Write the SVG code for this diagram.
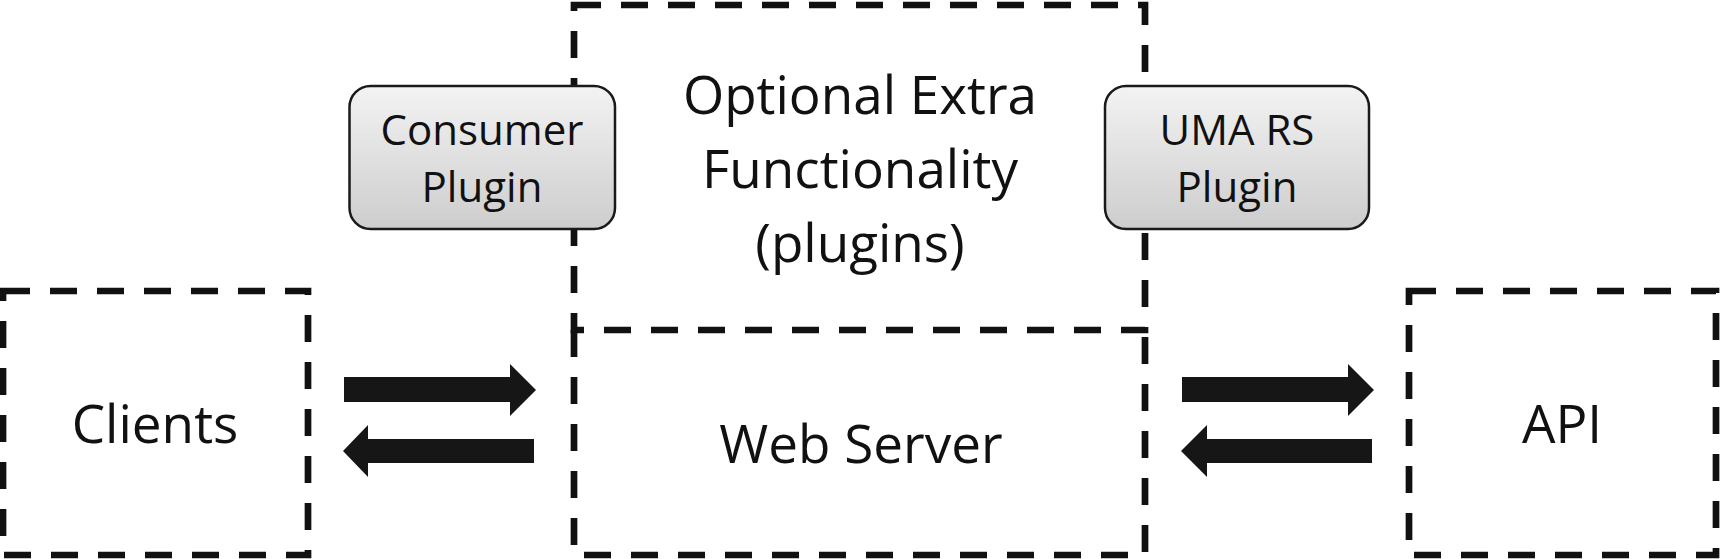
<svg xmlns="http://www.w3.org/2000/svg" width="1721" height="559" viewBox="0 0 1721 559">
  <style>
    .dash { fill: none; stroke: #111; stroke-width: 6.7; stroke-dasharray: 27 20; }
    .plug { fill: url(#g); stroke: #1a1a1a; stroke-width: 2.5; }
    .t { font-family: "Open Sans", "Noto Sans", sans-serif; fill: #111; text-anchor: middle; }
    .big { font-size: 53px; }
    .sm { font-size: 42px; }
    .arrow { fill: #161616; }
  </style>
  <defs>
    <linearGradient id="g" x1="0" y1="0" x2="0" y2="1">
      <stop offset="0" stop-color="#f3f3f3"/>
      <stop offset="1" stop-color="#cdcdcd"/>
    </linearGradient>
  </defs>
  <rect width="1721" height="559" fill="#fff"/>

  <g id="clients">
    <rect class="dash" x="3" y="291" width="305" height="264"/>
    <text class="t big" x="155" y="443">Clients</text>
  </g>

  <g id="optional">
    <rect class="dash" x="574" y="5" width="571" height="325"/>
    <text class="t big" x="860" y="114">Optional Extra</text>
    <text class="t big" x="860" y="188">Functionality</text>
    <text class="t big" x="860" y="262">(plugins)</text>
  </g>

  <g id="webserver">
    <path class="dash" d="M574,330 V555 H1145 V330"/>
    <text class="t big" x="861" y="463">Web Server</text>
  </g>

  <g id="api">
    <rect class="dash" x="1409" y="291" width="307" height="264"/>
    <text class="t big" x="1562" y="443">API</text>
  </g>

  <g id="consumer-plugin">
    <rect class="plug" x="349.5" y="86" width="265.5" height="143" rx="21" ry="21"/>
    <text class="t sm" x="482" y="145">Consumer</text>
    <text class="t sm" x="482" y="202">Plugin</text>
  </g>

  <g id="uma-plugin">
    <rect class="plug" x="1105" y="86" width="264" height="143" rx="21" ry="21"/>
    <text class="t sm" x="1237" y="145">UMA RS</text>
    <text class="t sm" x="1237" y="202">Plugin</text>
  </g>

  <g id="connectors">
    <polygon class="arrow" points="344,377 510,377 510,364 536,390 510,416 510,402 344,402"/>
    <polygon class="arrow" points="534,439 368,439 368,425 343,451 368,477 368,463 534,463"/>
    <polygon class="arrow" points="1182,377 1348,377 1348,364 1374,390 1348,416 1348,402 1182,402"/>
    <polygon class="arrow" points="1372,439 1207,439 1207,425 1181,451 1207,477 1207,463 1372,463"/>
  </g>
</svg>
